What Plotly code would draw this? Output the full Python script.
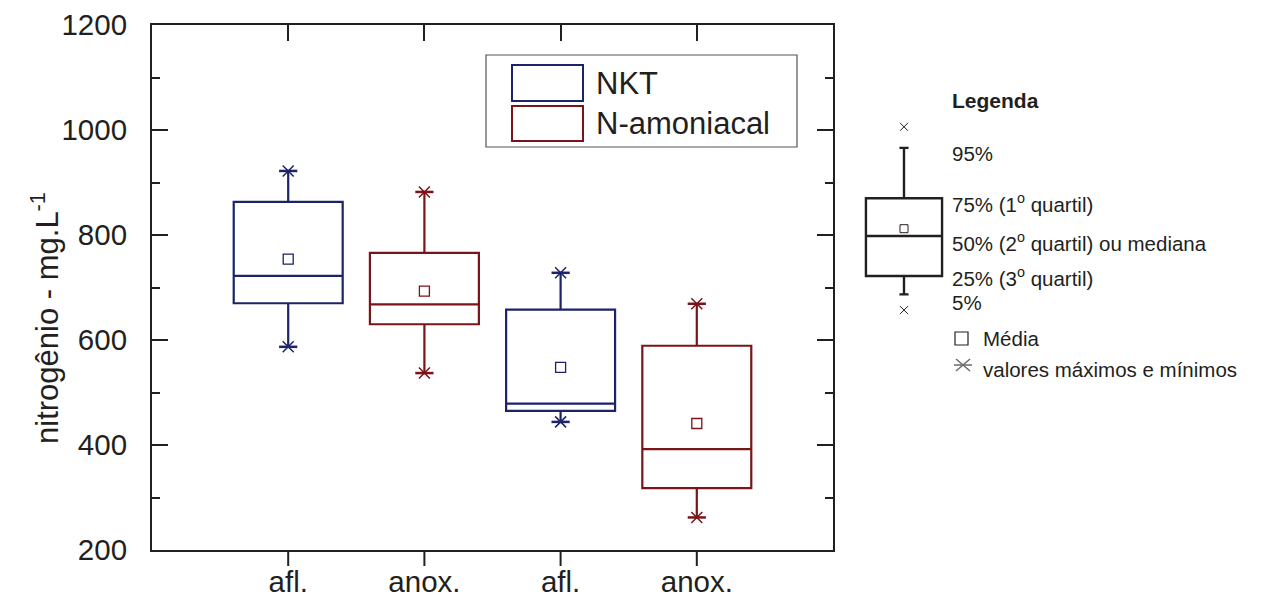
import plotly.graph_objects as go

# ---------------- data ----------------
categories = ["afl.", "anox.", "afl.", "anox."]
cat_positions = [1, 2, 3, 4]
series_names = ["NKT", "N-amoniacal"]

nkt_x = [1, 3]
nkt_q1 = [670, 465]
nkt_median = [722, 479]
nkt_q3 = [863, 658]
nkt_mean = [754, 548]
nkt_min = [587, 444]
nkt_max = [922, 728]

amo_x = [2, 4]
amo_q1 = [630, 318]
amo_median = [668, 392]
amo_q3 = [766, 589]
amo_mean = [693, 441]
amo_min = [537, 262]
amo_max = [882, 669]

# explanatory key box (Legenda)
key_q1 = [722]
key_median = [798]
key_q3 = [870]
key_p5 = [687]
key_p95 = [966]
key_mean = [812]
key_min = [657]
key_max = [1006]

key_labels = ["95%", "75% (1<sup>o</sup> quartil)", "50% (2<sup>o</sup> quartil) ou mediana",
              "25% (3<sup>o</sup> quartil)", "5%", "Média", "valores máximos e mínimos"]

y_ticks = [200, 400, 600, 800, 1000, 1200]

# ---------------- style ----------------
BLUE = "#1c2368"
RED = "#7a1418"
INK = "#231f20"
FONT = "Liberation Sans, Arial, sans-serif"

W, H = 1280, 606
ML, MR, MT, MB = 152, 0, 25, 0
PW = W - ML - MR          # paper width in px
PPH = H - MT - MB         # paper height in px
PLOT_RIGHT = 833
PLOT_BOTTOM = 550
X_RANGE = [0, 5]


def px(x):
    return (x - ML) / PW


def py(y):
    return (H - MB - y) / PPH


# x2 (key) axis: domain in pixels 860..948, range 0..2
K0, K1 = 860, 948

fig = go.Figure()


def add_series(xs, q1, med, q3, lo, hi, mean, color, name):
    fig.add_trace(go.Box(
        x=xs, q1=q1, median=med, q3=q3, lowerfence=lo, upperfence=hi,
        width=0.8, whiskerwidth=0, boxpoints=False,
        line=dict(color=color, width=2.2), fillcolor="rgba(0,0,0,0)",
        name=name, showlegend=False, hoverinfo="skip",
    ))
    fig.add_trace(go.Scatter(
        x=xs, y=mean, mode="markers", showlegend=False, hoverinfo="skip",
        marker=dict(symbol="square-open", size=10, color=color, line=dict(width=1.3)),
    ))
    ex_x = xs + xs
    ex_y = lo + hi
    fig.add_trace(go.Scatter(
        x=ex_x, y=ex_y, mode="markers", showlegend=False, hoverinfo="skip",
        marker=dict(symbol="x-thin-open", size=11, color=color, line=dict(width=1.5, color=color)),
    ))
    fig.add_trace(go.Scatter(
        x=ex_x, y=ex_y, mode="markers", showlegend=False, hoverinfo="skip",
        marker=dict(symbol="line-ew-open", size=13, color=color, line=dict(width=2.5, color=color)),
    ))


add_series(nkt_x, nkt_q1, nkt_median, nkt_q3, nkt_min, nkt_max, nkt_mean, BLUE, series_names[0])
add_series(amo_x, amo_q1, amo_median, amo_q3, amo_min, amo_max, amo_mean, RED, series_names[1])

# ---- key box on x2 ----
fig.add_trace(go.Box(
    x=[1], q1=key_q1, median=key_median, q3=key_q3, lowerfence=key_p5, upperfence=key_p95,
    width=1.73, whiskerwidth=0.12, boxpoints=False,
    line=dict(color=INK, width=2.4), fillcolor="rgba(0,0,0,0)",
    xaxis="x2", yaxis="y", showlegend=False, hoverinfo="skip",
))
fig.add_trace(go.Scatter(
    x=[1], y=key_mean, mode="markers", xaxis="x2", yaxis="y", showlegend=False, hoverinfo="skip",
    marker=dict(symbol="square-open", size=8, color=INK, line=dict(width=1)),
))
fig.add_trace(go.Scatter(
    x=[1, 1], y=key_min + key_max, mode="markers", xaxis="x2", yaxis="y",
    showlegend=False, hoverinfo="skip",
    marker=dict(symbol="x-thin-open", size=8, color=INK, line=dict(width=1, color=INK)),
))

# ---- annotations (key text) ----
annotations = []
annotations.append(dict(text="<b>Legenda</b>", x=px(950), y=py(100), xref="paper", yref="paper",
                        xanchor="left", yanchor="middle", showarrow=False,
                        font=dict(size=21, color=INK, family=FONT)))
key_y = [153, 203, 242, 277, 302, 338, 369]
key_xs = [950, 950, 950, 950, 950, 981, 981]
for t, yy, xx in zip(key_labels, key_y, key_xs):
    annotations.append(dict(text=t, x=px(xx), y=py(yy), xref="paper", yref="paper",
                            xanchor="left", yanchor="middle", showarrow=False,
                            font=dict(size=20.5, color=INK, family=FONT)))

# series legend text
annotations.append(dict(text=series_names[0], x=px(594), y=py(83), xref="paper", yref="paper",
                        xanchor="left", yanchor="middle", showarrow=False,
                        font=dict(size=31, color=INK, family=FONT)))
annotations.append(dict(text=series_names[1], x=px(594), y=py(124), xref="paper", yref="paper",
                        xanchor="left", yanchor="middle", showarrow=False,
                        font=dict(size=31, color=INK, family=FONT)))

# y-axis title
annotations.append(dict(text="nitrogênio - mg.L<sup>-1</sup>", x=px(45), y=py(318),
                        xref="paper", yref="paper", xanchor="center", yanchor="middle",
                        textangle=-90, showarrow=False,
                        font=dict(size=31, color=INK, family=FONT)))

GRAY = "#6a6a6a"
shapes = [
    dict(type="rect", xref="paper", yref="paper", x0=px(486), x1=px(797), y0=py(55), y1=py(147),
         line=dict(color="#555", width=1.2), fillcolor="white", layer="below"),
    dict(type="rect", xref="paper", yref="paper", x0=px(512), x1=px(583), y0=py(65), y1=py(101),
         line=dict(color=BLUE, width=2)),
    dict(type="rect", xref="paper", yref="paper", x0=px(512), x1=px(583), y0=py(106), y1=py(141),
         line=dict(color=RED, width=2)),
    # key symbol: mean square
    dict(type="rect", xref="paper", yref="paper", x0=px(955), x1=px(968), y0=py(332), y1=py(345),
         line=dict(color=INK, width=1.2)),
    # key symbol: max/min star
    dict(type="line", xref="paper", yref="paper", x0=px(956), x1=px(970), y0=py(359), y1=py(371),
         line=dict(color=GRAY, width=1.5)),
    dict(type="line", xref="paper", yref="paper", x0=px(956), x1=px(970), y0=py(371), y1=py(359),
         line=dict(color=GRAY, width=1.5)),
    dict(type="line", xref="paper", yref="paper", x0=px(954), x1=px(972), y0=py(365), y1=py(365),
         line=dict(color=GRAY, width=1.5)),
]

x_dom = [0, px(PLOT_RIGHT)]
y_dom = [py(PLOT_BOTTOM), 1]

# bottom outside category ticks, mapped from the x axis range to paper coordinates
for cp in cat_positions:
    xp = x_dom[0] + (cp - X_RANGE[0]) / (X_RANGE[1] - X_RANGE[0]) * (x_dom[1] - x_dom[0])
    shapes.append(dict(type="line", xref="paper", yref="paper", x0=xp, x1=xp,
                       y0=py(PLOT_BOTTOM), y1=py(PLOT_BOTTOM + 16),
                       line=dict(color=INK, width=2)))

fig.update_layout(
    width=W, height=H,
    margin=dict(l=ML, r=MR, t=MT, b=MB, pad=0),
    paper_bgcolor="white", plot_bgcolor="white",
    font=dict(family=FONT, color=INK, size=29),
    boxmode="overlay",
    showlegend=False,
    annotations=annotations,
    shapes=shapes,
    xaxis=dict(
        domain=x_dom, range=X_RANGE, tickmode="array", tickvals=cat_positions, ticktext=categories,
        ticks="", showline=True, linewidth=2, linecolor=INK, mirror=True,
        showgrid=False, zeroline=False, tickfont=dict(size=29.5, color=INK),
        ticklabelstandoff=5, automargin=False,
    ),
    xaxis3=dict(
        domain=x_dom, range=X_RANGE, overlaying="x", side="top", anchor="y",
        tickmode="array", tickvals=cat_positions, ticks="inside", ticklen=16, tickwidth=2,
        tickcolor=INK, showticklabels=False, showline=False, showgrid=False, zeroline=False,
        automargin=False,
    ),
    xaxis2=dict(
        domain=[px(K0), px(K1)], range=[0, 2], anchor="y", visible=False,
    ),
    yaxis=dict(
        domain=y_dom, range=[200, 1200], tickmode="array", tickvals=y_ticks,
        ticks="inside", ticklen=16, tickwidth=2, tickcolor=INK,
        minor=dict(ticks="inside", ticklen=8, tickwidth=2, dtick=100, tick0=200, tickcolor=INK,
                   showgrid=False),
        showline=True, linewidth=2, linecolor=INK, mirror="ticks",
        showgrid=False, zeroline=False, tickfont=dict(size=29.5, color=INK),
        ticklabelstandoff=17, automargin=False,
    ),
)

# invisible trace to make sure the overlay tick axis is drawn
fig.add_trace(go.Scatter(x=[0], y=[200], xaxis="x3", yaxis="y", mode="markers",
                         marker=dict(opacity=0), showlegend=False, hoverinfo="skip"))

fig.write_html("out.html")
